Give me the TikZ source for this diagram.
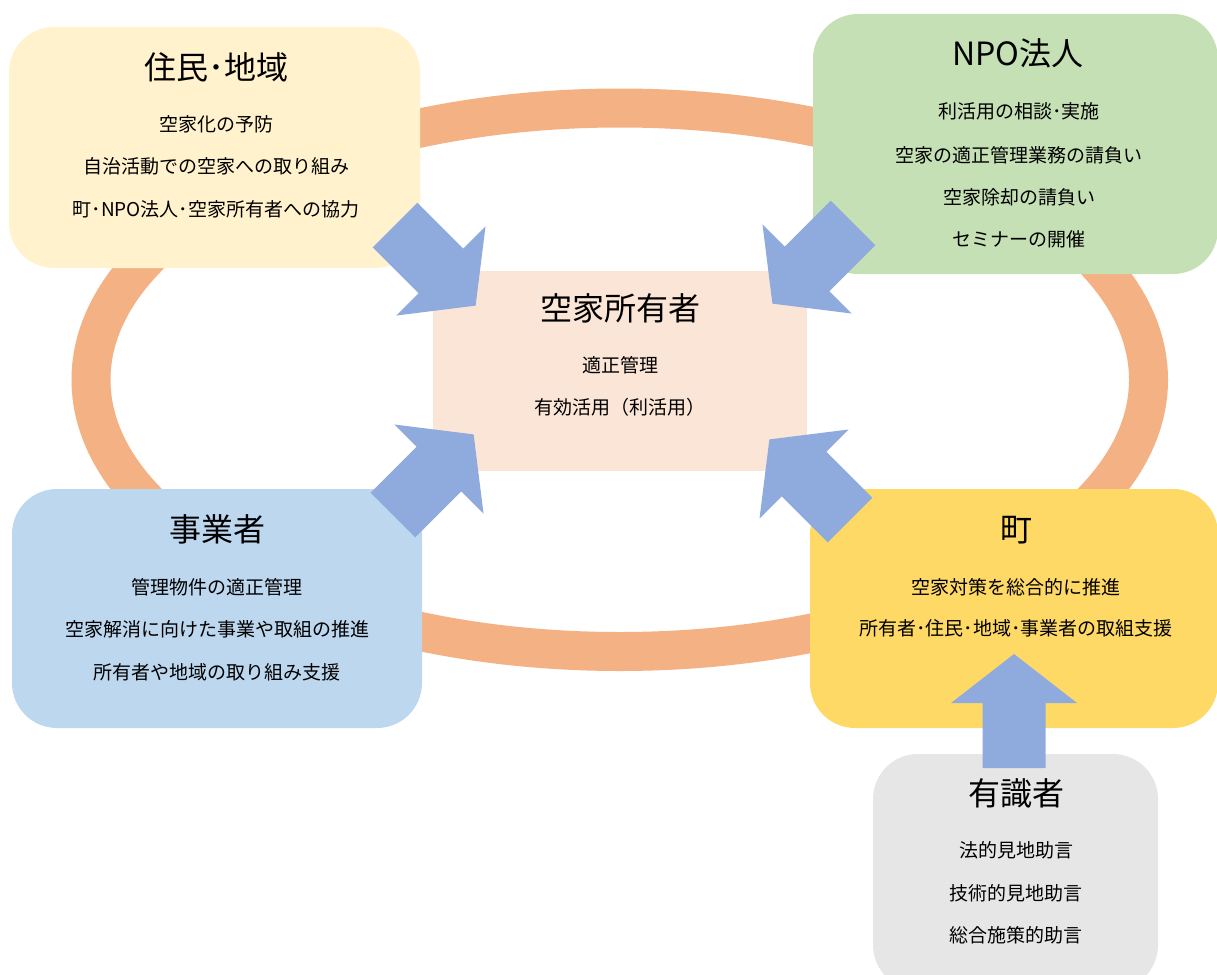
\documentclass[tikz,border=0pt]{standalone}
\usepackage{fontspec}
\setmainfont{Noto Sans CJK JP}
\definecolor{ringc}{HTML}{F4B183}
\definecolor{arrowc}{HTML}{8FAADC}
\definecolor{resc}{HTML}{FFF2CC}
\definecolor{npoc}{HTML}{C5E0B4}
\definecolor{ownc}{HTML}{FBE5D6}
\definecolor{bizc}{HTML}{BDD7EE}
\definecolor{townc}{HTML}{FFD966}
\definecolor{expc}{HTML}{E6E6E6}
\tikzset{
  box/.style={rectangle, rounded corners=45pt, inner sep=0pt, draw=none},
  ttl/.style={inner sep=0pt, font=\fontsize{32}{38}\selectfont, text=black},
  txt/.style={inner sep=0pt, font=\fontsize{19}{23}\selectfont, text=black},
  blockarr/.pic={\fill[arrowc] (0,-31.5) -- (65,-31.5) -- (65,-63) -- (114,0) -- (65,63) -- (65,31.5) -- (0,31.5) -- cycle;}
}
\begin{document}
\begin{tikzpicture}[x=1pt,y=-1pt]
\useasboundingbox (0,0) rectangle (1217,974);
\clip (0,0) rectangle (1217,974);
% ring
\draw[ringc, line width=39pt] (619.75,379.75) ellipse [x radius=528.75, y radius=271.75];
% boxes
\node[box, fill=resc, minimum width=411pt, minimum height=241pt] (res) at (214.5,147.5) {};
\node[box, fill=npoc, minimum width=405pt, minimum height=260pt] (npo) at (1015.5,144) {};
\node[rectangle, inner sep=0pt, fill=ownc, minimum width=374pt, minimum height=200pt] (own) at (620,371) {};
\node[box, fill=bizc, minimum width=410pt, minimum height=239pt] (biz) at (217,608.5) {};
\node[box, fill=townc, minimum width=408pt, minimum height=239pt] (town) at (1014,608.5) {};
\node[box, fill=expc, minimum width=285pt, minimum height=236pt] (exp) at (1015.5,872) {};
% texts: residents
\node[ttl] (resT) at (216,67) {住民･地域};
\node[txt] (res1) at (216,124) {空家化の予防};
\node[txt] (res2) at (216,166) {自治活動での空家への取り組み};
\node[txt] (res3) at (216,209) {町･NPO法人･空家所有者への協力};
% NPO
\node[ttl] (npoT) at (1018,53) {NPO法人};
\node[txt] (npo1) at (1019,111) {利活用の相談･実施};
\node[txt] (npo2) at (1019,155) {空家の適正管理業務の請負い};
\node[txt] (npo3) at (1019,197) {空家除却の請負い};
\node[txt] (npo4) at (1019,239) {セミナーの開催};
% owner
\node[ttl] (ownT) at (620,308) {空家所有者};
\node[txt] (own1) at (620,365) {適正管理};
\node[txt] (own2) at (620,407) {有効活用（利活用）};
% business
\node[ttl] (bizT) at (217,529) {事業者};
\node[txt] (biz1) at (217,587) {管理物件の適正管理};
\node[txt] (biz2) at (217,629) {空家解消に向けた事業や取組の推進};
\node[txt] (biz3) at (217,672) {所有者や地域の取り組み支援};
% town
\node[ttl] (townT) at (1016,530) {町};
\node[txt] (town1) at (1016,587) {空家対策を総合的に推進};
\node[txt] (town2) at (1016,628) {所有者･住民･地域･事業者の取組支援};
% experts
\node[ttl] (expT) at (1016,793) {有識者};
\node[txt] (exp1) at (1016,850) {法的見地助言};
\node[txt] (exp2) at (1016,893) {技術的見地助言};
\node[txt] (exp3) at (1016,935) {総合施策的助言};
% block arrows
\coordinate (aRes) at (395,225);
\coordinate (aNpo) at (853,223);
\coordinate (aBiz) at (393,515);
\coordinate (aTown) at (850,520);
\coordinate (aExp) at (1014,768);
\pic[rotate=-45] at (aRes) {blockarr};
\pic[rotate=-135] at (aNpo) {blockarr};
\pic[rotate=45] at (aBiz) {blockarr};
\pic[rotate=135] at (aTown) {blockarr};
\pic[rotate=90] at (aExp) {blockarr};
\end{tikzpicture}
\end{document}
